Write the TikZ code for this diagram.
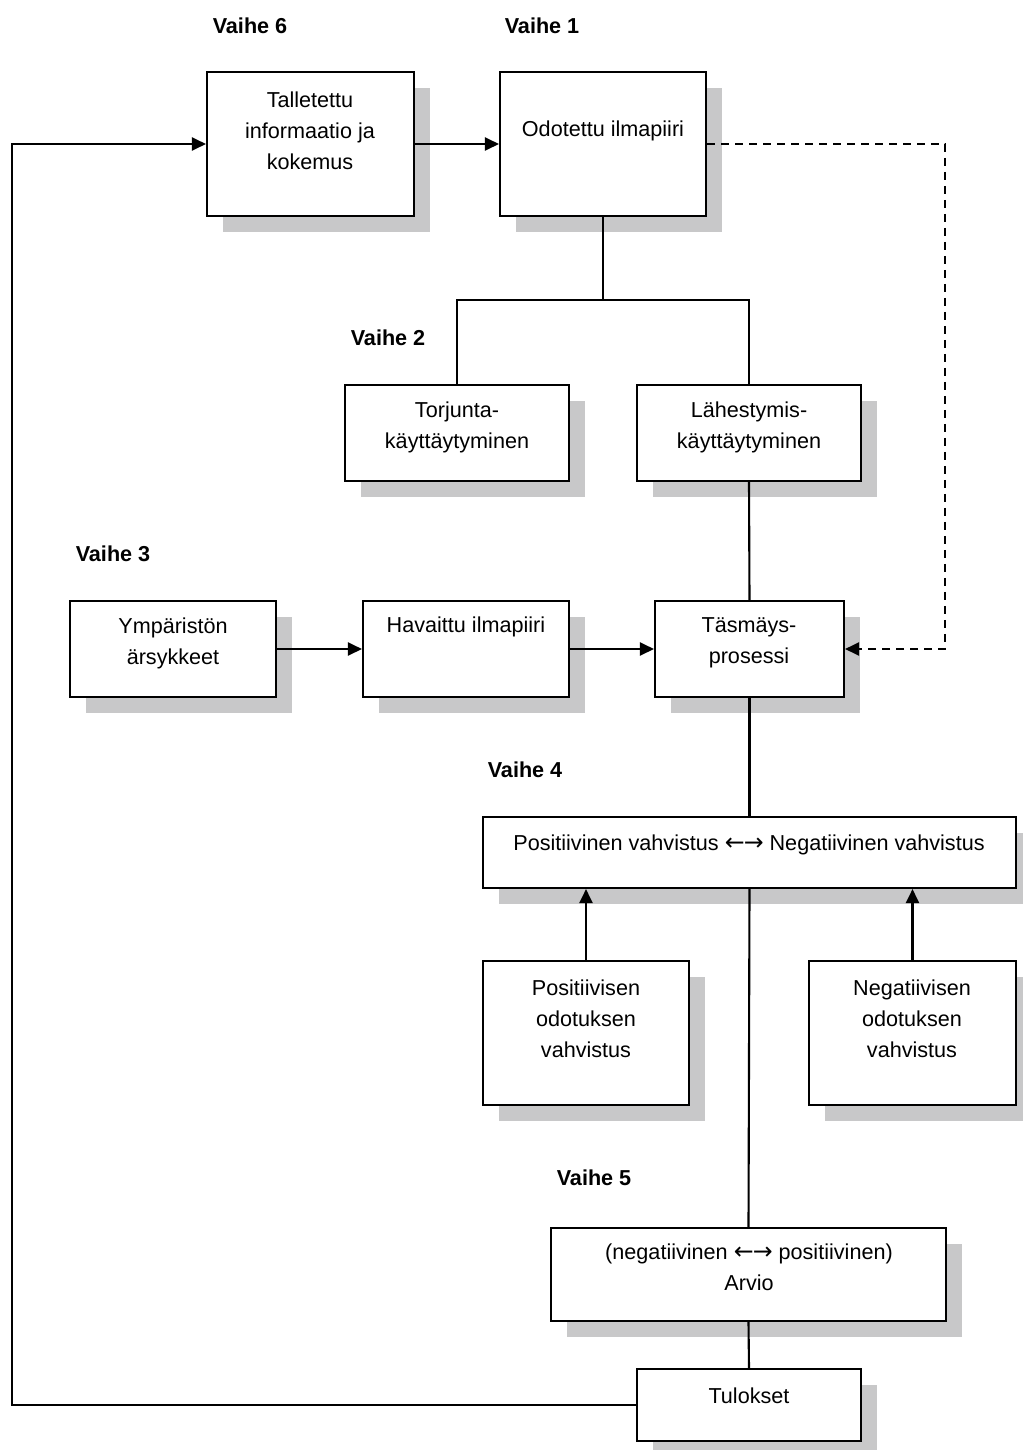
\documentclass[tikz,border=0pt]{standalone}
\usepackage{fontspec}
\setmainfont{Liberation Sans}
\newfontfamily\arrowfont{DejaVu Sans}
\usepackage{tikz}
\usetikzlibrary{arrows.meta,shadows}
\definecolor{shade}{RGB}{200,200,201}
\newcommand{\both}{{\arrowfont\fontsize{13.5}{17.6}\selectfont ←\kern-0.5pt→}}
\tikzset{box/.style={draw,line width=1.2pt,fill=white,inner sep=0pt,
    general shadow={fill=shade,shadow xshift=0.32cm,shadow yshift=-0.32cm}},
  txt/.style={align=center,inner sep=0pt},
  phase/.style={font=\fontsize{12.3}{15}\selectfont\bfseries},
  link/.style={line width=1.2pt},
  flow/.style={line width=1.2pt,-{Triangle[length=0.28cm,width=0.26cm]}}}

\begin{document}
\begin{tikzpicture}[x=0.02cm,y=-0.02cm,line join=miter,font=\fontsize{12.3}{17.6}\selectfont]
\useasboundingbox (0,0) rectangle (1022,1450);
% --- boxes
\node[box,minimum width=4.14cm,minimum height=2.88cm] (tall) at (310.5,144) {};
\node[box,minimum width=4.12cm,minimum height=2.88cm] (odot) at (603,144) {};
\node[box,minimum width=4.48cm,minimum height=1.92cm] (torj) at (457,433) {};
\node[box,minimum width=4.48cm,minimum height=1.92cm] (lahe) at (749,433) {};
\node[box,minimum width=4.12cm,minimum height=1.92cm] (ymp) at (173,649) {};
\node[box,minimum width=4.12cm,minimum height=1.92cm] (hav) at (466,649) {};
\node[box,minimum width=3.78cm,minimum height=1.92cm] (tasm) at (749.5,649) {};
\node[box,minimum width=10.66cm,minimum height=1.42cm] (vahv) at (749.5,852.5) {};
\node[box,minimum width=4.12cm,minimum height=2.88cm] (podo) at (586,1033) {};
\node[box,minimum width=4.14cm,minimum height=2.88cm] (nodo) at (912.5,1033) {};
\node[box,minimum width=7.9cm,minimum height=1.86cm] (arvio) at (748.5,1274.5) {};
\node[box,minimum width=4.48cm,minimum height=1.44cm] (tul) at (749,1405) {};
% --- texts
\node[txt] (tall-t) at (310,131) {Talletettu\\informaatio ja\\kokemus};
\node[txt] (odot-t) at (603,131) {Odotettu ilmapiiri};
\node[txt] (torj-t) at (457,427) {Torjunta-\\käyttäytyminen};
\node[txt] (lahe-t) at (749,427) {Lähestymis-\\käyttäytyminen};
\node[txt] (ymp-t) at (173,643) {Ympäristön\\ärsykkeet};
\node[txt] (hav-t) at (466,627) {Havaittu ilmapiiri};
\node[txt] (tasm-t) at (749,643) {Täsmäys-\\prosessi};
\node[txt] (vahv-t) at (749,845) {Positiivinen vahvistus \both{} Negatiivinen vahvistus};
\node[txt] (podo-t) at (586,1019) {Positiivisen\\odotuksen\\vahvistus};
\node[txt] (nodo-t) at (912,1019) {Negatiivisen\\odotuksen\\vahvistus};
\node[txt] (arvio-t) at (749,1267) {(negatiivinen \both{} positiivinen)\\Arvio};
\node[txt] (tul-t) at (749,1396) {Tulokset};
% --- phases
\node[phase] (v6) at (250,26) {Vaihe 6};
\node[phase] (v1) at (542,26) {Vaihe 1};
\node[phase] (v2) at (388,338) {Vaihe 2};
\node[phase] (v3) at (113,554) {Vaihe 3};
\node[phase] (v4) at (525,770) {Vaihe 4};
\node[phase] (v5) at (594,1178) {Vaihe 5};
% --- connectors
\coordinate (back) at (12,144);
\coordinate (split) at (603,300);
\coordinate (dash) at (945,144);
\draw[flow] (tul.west) -| (back) -- (tall.west);
\draw[flow] (tall.east) -- (odot.west);
\draw[link] (odot.south) -- (split);
\draw[link] (torj.north) |- (split) -| (lahe.north);
\draw[link] (lahe.south) -- (tasm.north);
\draw[flow] (ymp.east) -- (hav.west);
\draw[flow] (hav.east) -- (tasm.west);
\draw[flow,dash pattern=on 0.16cm off 0.12cm] (odot.east) -- (dash) |- (tasm.east);
\draw[link] (tasm.south) -- (vahv.north);
\draw[link] (vahv.south) -- (arvio.north);
\draw[flow] (podo.north) -- (podo.north |- vahv.south);
\draw[flow] (nodo.north) -- (nodo.north |- vahv.south);
\draw[link] (arvio.south) -- (tul.north);
\end{tikzpicture}
\end{document}
